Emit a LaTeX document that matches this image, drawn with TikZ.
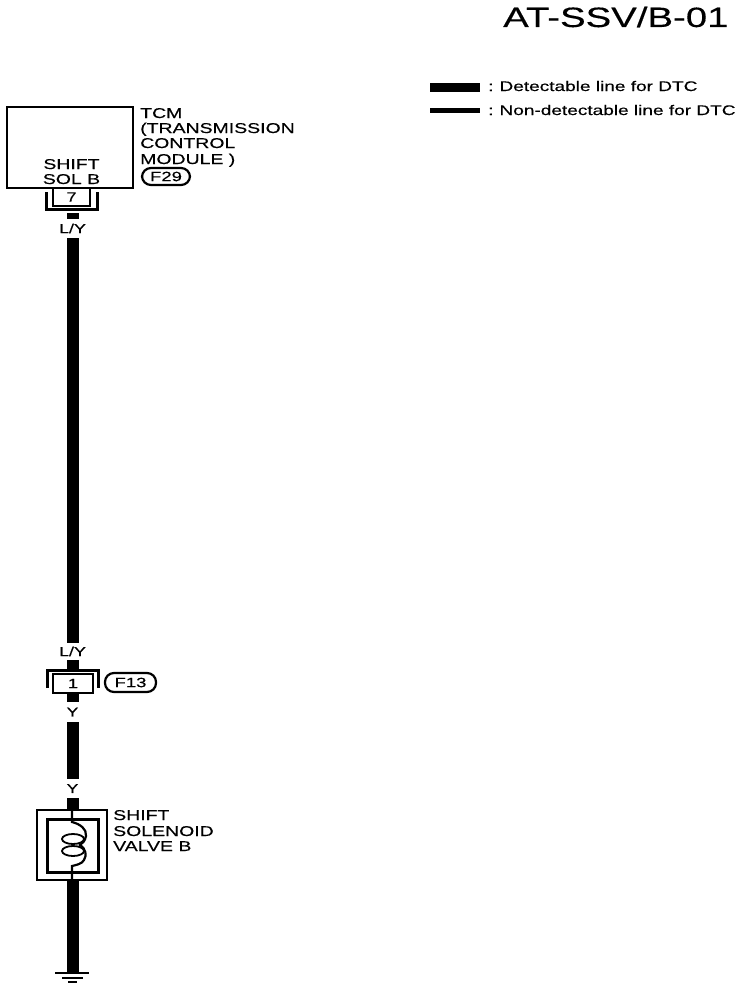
\documentclass[tikz,border=0pt]{standalone}
\usepackage{fontspec}
\setmainfont[FakeStretch=1.37,FakeBold=0.35]{Liberation Sans}
\begin{document}
\begin{tikzpicture}[x=1pt,y=-1pt,
  lbl/.style={anchor=base west,inner sep=0pt,font=\fontsize{14.2}{14}\selectfont},
  leg/.style={anchor=base west,inner sep=0pt,font=\fontsize{13.9}{14}\selectfont},
  ctr/.style={anchor=base,inner sep=0pt,font=\fontsize{14.2}{14}\selectfont},
  wirelbl/.style={inner sep=0pt,font=\fontsize{13}{13}\selectfont},
  ttl/.style={anchor=base west,inner sep=0pt,font=\fontsize{28}{28}\selectfont},
  boxed/.style={draw,line width=2.4pt,rectangle,inner sep=0pt},
  oval/.style={draw,line width=2.2pt,rectangle,rounded corners=9pt,inner sep=0pt,font=\fontsize{13.5}{14}\selectfont},
  wire/.style={line width=12pt,line cap=butt},
  thinw/.style={line width=2.2pt},
  brk/.style={line width=3pt,line cap=butt}]
\useasboundingbox (0,0) rectangle (752,990);
% title and legend
\node[ttl] (title) at (503,27) {AT-SSV/B-01};
\coordinate (la) at (430,87.5); \coordinate (lb) at (480,87.5);
\coordinate (lc) at (430,110.5); \coordinate (ld) at (480,110.5);
\draw[line width=9pt] (la) -- (lb);
\draw[line width=5pt] (lc) -- (ld);
\node[leg] (leg1) at (488,91) {:\hspace{-1pt} Detectable line for DTC};
\node[leg] (leg2) at (488,115) {:\hspace{-1pt} Non-detectable line for DTC};
% TCM
\node[boxed,minimum width=126pt,minimum height=81pt] (tcm) at (70,147.5) {};
\node[ctr] (sh) at (71.5,169) {SHIFT};
\node[ctr] (sol) at (71.5,184) {SOL B};
\node[lbl] (t1) at (140,118) {TCM};
\node[lbl] (t2) at (140,133) {(TRANSMISSION};
\node[lbl] (t3) at (140,148) {CONTROL};
\node[lbl] (t4) at (140,164) {MODULE )};
\node[oval,minimum width=48pt,minimum height=17pt] (f29) at (166,176.5) {F29};
% connector 7
\node[boxed,minimum width=37pt,minimum height=18pt,font=\fontsize{13.5}{14}\selectfont] (c7) at (71.5,197) {7};
\coordinate (bk1) at (46,192); \coordinate (bk2) at (46,209); \coordinate (bk3) at (97,209); \coordinate (bk4) at (97,192);
\draw[brk] (bk1) -- (bk2) -- (bk3) -- (bk4);
\node[wirelbl,minimum width=30pt,minimum height=19pt] (ly1) at (72.5,228.5) {L/Y};
\node[wirelbl,minimum width=30pt,minimum height=17pt] (ly2) at (72.5,651.5) {L/Y};
% connector 1
\node[boxed,minimum width=40pt,minimum height=19pt,font=\fontsize{13.5}{14}\selectfont] (c1) at (73,683.5) {1};
\coordinate (bj1) at (47,688); \coordinate (bj2) at (47,670.5); \coordinate (bj3) at (98,670.5); \coordinate (bj4) at (98,688);
\draw[brk] (bj1) -- (bj2) -- (bj3) -- (bj4);
\node[oval,minimum width=51pt,minimum height=19pt] (f13) at (130.5,682.5) {F13};
\node[wirelbl,minimum width=20pt,minimum height=20pt] (y1) at (72.5,712) {Y};
\node[wirelbl,minimum width=20pt,minimum height=19pt] (y2) at (72.5,788.5) {Y};
% solenoid
\node[boxed,minimum width=70pt,minimum height=70pt] (sv) at (72,845) {};
\node[boxed,line width=3pt,minimum width=51pt,minimum height=53pt] (si) at (72.5,845.5) {};
\draw[line width=1.8pt] (73,839) ellipse (11pt and 5pt);
\draw[line width=1.8pt] (73,851) ellipse (11pt and 5pt);
\draw[thinw] (72,810) -- (72,822) .. controls (80,824) and (87,829) .. (86,836)
  .. controls (85,841) and (83,843) .. (80,845)
  .. controls (86,849) and (87,855) .. (84,860)
  .. controls (82,864) and (76,865) .. (72,866) -- (72,880);
\node[lbl] (s1) at (113,820) {SHIFT};
\node[lbl] (s2) at (113,836) {SOLENOID};
\node[lbl] (s3) at (113,851) {VALVE B};
% wires
\coordinate (gnd) at (72.5,973);
\coordinate (g1) at (55,973); \coordinate (g2) at (89,973);
\coordinate (g3) at (62,977.5); \coordinate (g4) at (83,977.5);
\coordinate (g5) at (68,982); \coordinate (g6) at (77,982);
\draw[wire,shorten <=6pt] (c7.south -| ly1.north) -- (ly1.north);
\draw[wire] (ly1.south) -- (ly2.north);
\draw[wire] (ly2.south) -- (bj2 -| ly2.south);
\draw[wire] (c1.south -| y1.north) -- (y1.north);
\draw[wire] (y1.south) -- (y2.north);
\draw[wire] (y2.south) -- (sv.north -| y2.south);
\draw[wire] (sv.south -| gnd) -- (gnd);
\draw[line width=2pt] (g1) -- (g2);
\draw[line width=2pt] (g3) -- (g4);
\draw[line width=2pt] (g5) -- (g6);
\end{tikzpicture}
\end{document}
